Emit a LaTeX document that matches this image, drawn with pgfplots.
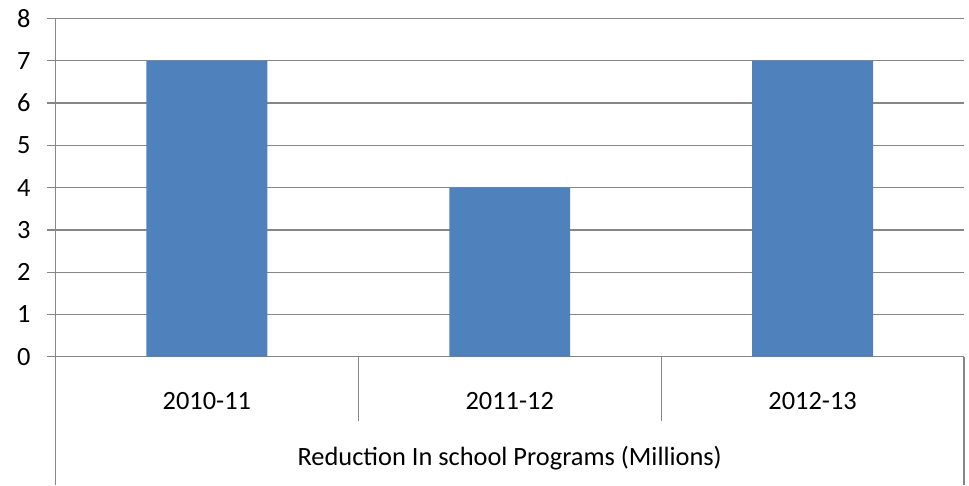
\documentclass[border=0pt]{standalone}
\usepackage{pgfplots}
\pgfplotsset{compat=1.18}
\usepackage{fontspec}
\setmainfont{Carlito}
\definecolor{barblue}{HTML}{4F81BD}
\definecolor{axgray}{HTML}{868686}

\begin{document}
\begin{tikzpicture}[font=\fontsize{13.2}{15.5}\selectfont]
\begin{axis}[
  name=ax,
  scale only axis,
  width=454.5pt, height=169.25pt,
  xmin=0.5, xmax=3.5, ymin=0, ymax=8,
  ytick={0,...,8},
  xtick={1,2,3},
  xticklabels={2010-11,2011-12,2012-13},
  /pgf/number format/assume math mode=true,
  axis x line*=bottom, axis y line*=left,
  axis line style={axgray, line width=0.6pt},
  ymajorgrids,
  major grid style={axgray, line width=0.6pt},
  tick align=outside,
  major tick length=4pt,
  ytick style={axgray, line width=0.6pt},
  xtick style={draw=none},
  yticklabel style={xshift=-5pt},
  xticklabel style={anchor=center, yshift=-18pt},
  clip=false,
]
\addplot[ybar, bar width=60.5pt, bar shift=0pt, fill=barblue, draw=none]
  coordinates {(1,7) (2,4) (3,7)};
\draw[axgray, line width=0.6pt] (axis cs:1.5,0) -- ++(0pt,-32pt);
\draw[axgray, line width=0.6pt] (axis cs:2.5,0) -- ++(0pt,-32pt);
\draw[axgray, line width=0.6pt] (rel axis cs:0,0) -- ++(0pt,-64pt);
\draw[axgray, line width=0.6pt] (rel axis cs:1,0) -- ++(0pt,-64pt);
\node at (rel axis cs:0.5,0) [yshift=-50.5pt] {Reduction In school Programs (Millions)};
\end{axis}
\path ([shift={(-27.75pt,-64pt)}]ax.south west) rectangle ([shift={(2.5pt,9.25pt)}]ax.north east);
\end{tikzpicture}
\end{document}
